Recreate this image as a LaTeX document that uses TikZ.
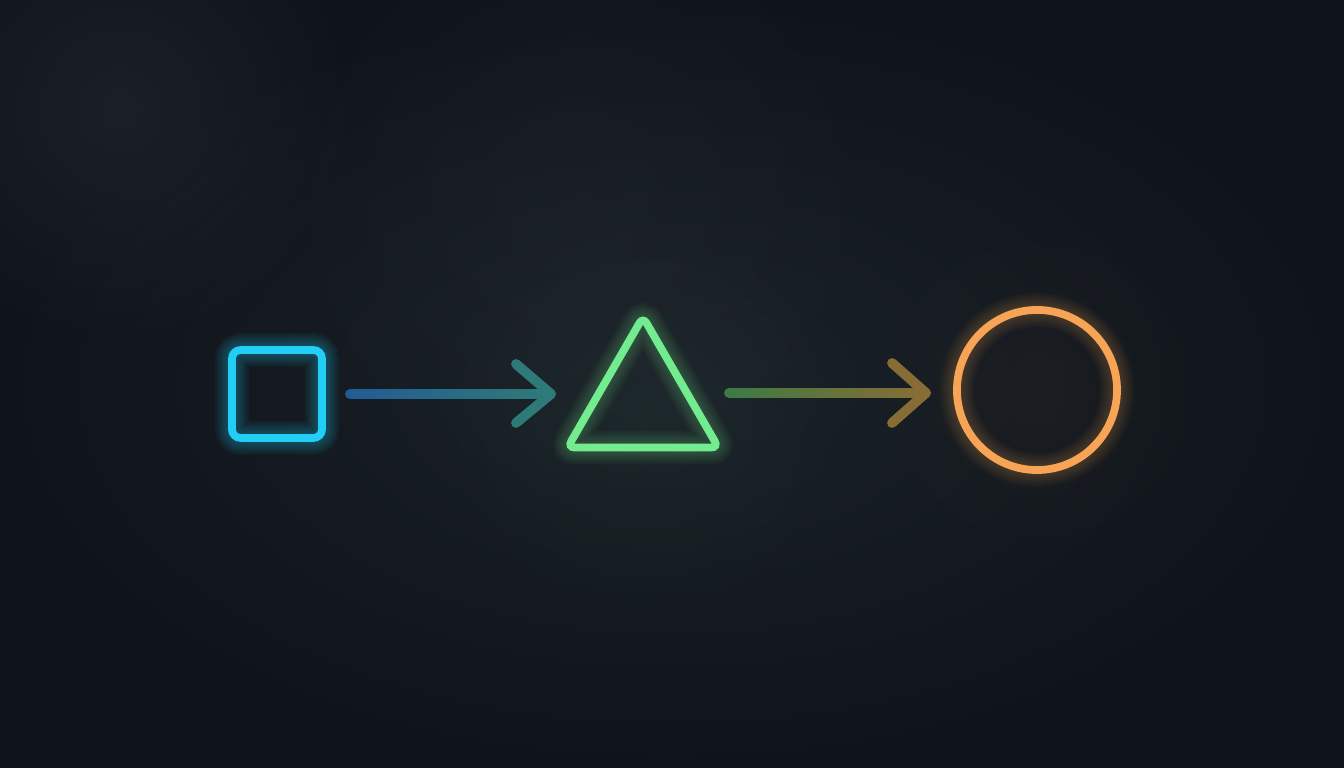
\documentclass[tikz,border=0pt]{standalone}
\usepackage{tikz}
\usetikzlibrary{calc,shapes.geometric,fadings}
\definecolor{bgdark}{HTML}{0F141A}
\definecolor{bgmid}{HTML}{1A2128}
\definecolor{bgspot}{HTML}{272C33}
\definecolor{sqcol}{HTML}{22CDF6}
\definecolor{tricol}{HTML}{72EC8E}
\definecolor{circcol}{HTML}{F7A457}
\definecolor{aonea}{HTML}{225C94}
\definecolor{aoneb}{HTML}{2E7A78}
\definecolor{atwoa}{HTML}{3E7A44}
\definecolor{atwob}{HTML}{886C35}
\tikzfading[name=softspot, inner color=transparent!0, outer color=transparent!100]
\tikzset{
  sqbox/.style={rectangle, rounded corners=2.5pt, minimum width=0.9cm, minimum height=0.88cm, inner sep=0pt},
  tribox/.style={regular polygon, regular polygon sides=3, minimum size=1.74cm, inner sep=0pt, rounded corners=2pt},
  circbox/.style={circle, minimum size=1.6cm, inner sep=0pt},
  arrline/.style={line width=2.8pt, line cap=round, line join=round},
}

\begin{document}
\begin{tikzpicture}[x=0.01cm,y=-0.01cm]
  \useasboundingbox (0,0) rectangle (1344,768);
  % background
  \shade[inner color=bgmid, outer color=bgdark] (0,0) rectangle (1344,768);
  \fill[bgspot, path fading=softspot, fill opacity=0.5] (120,110) circle (2.4cm);
  \fill[bgspot, path fading=softspot, fill opacity=0.3] (580,220) circle (3.2cm);
  \fill[tricol, path fading=softspot, fill opacity=0.035] (643,420) circle (2.2cm);
  \fill[circcol, path fading=softspot, fill opacity=0.03] (1037,390) circle (1.8cm);

  % glow
  \foreach \w in {1,...,8}{
    \node[sqbox, draw=sqcol, line width=1.2pt*\w, draw opacity=0.05] at (277,394) {};
    \node[tribox, draw=tricol, line width=1.2pt*\w, draw opacity=0.04] at (643,404) {};
    \node[circbox, draw=circcol, line width=1.2pt*\w, draw opacity=0.035] at (1037,390) {};
  };

  \node[sqbox, draw=sqcol, line width=2.2pt] (sq) at (277,394) {};
  \node[tribox, draw=tricol, line width=2.2pt] (tri) at (643,404) {};
  \node[circbox, draw=circcol, line width=2.2pt] (circ) at (1037,390) {};

  \coordinate (a1s) at (350,394);
  \coordinate (a1e) at (551,394);
  \coordinate (a2s) at (729,393);
  \coordinate (a2e) at (926,393);

  % arrows
  \foreach \i in {0,...,39}{
    \pgfmathtruncatemacro\p{\i*100/39}
    \draw[arrline, draw=aoneb!\p!aonea] ($(a1s)!\i/40!(a1e)$) -- ($(a1s)!\i/40+1/40!(a1e)$);
    \draw[arrline, draw=atwob!\p!atwoa] ($(a2s)!\i/40!(a2e)$) -- ($(a2s)!\i/40+1/40!(a2e)$);
  };
  \draw[arrline, draw=aoneb] ([shift={(-35,-30)}]a1e) -- (a1e) -- ([shift={(-35,29)}]a1e);
  \draw[arrline, draw=atwob] ([shift={(-34,-30)}]a2e) -- (a2e) -- ([shift={(-34,30)}]a2e);
\end{tikzpicture}
\end{document}
